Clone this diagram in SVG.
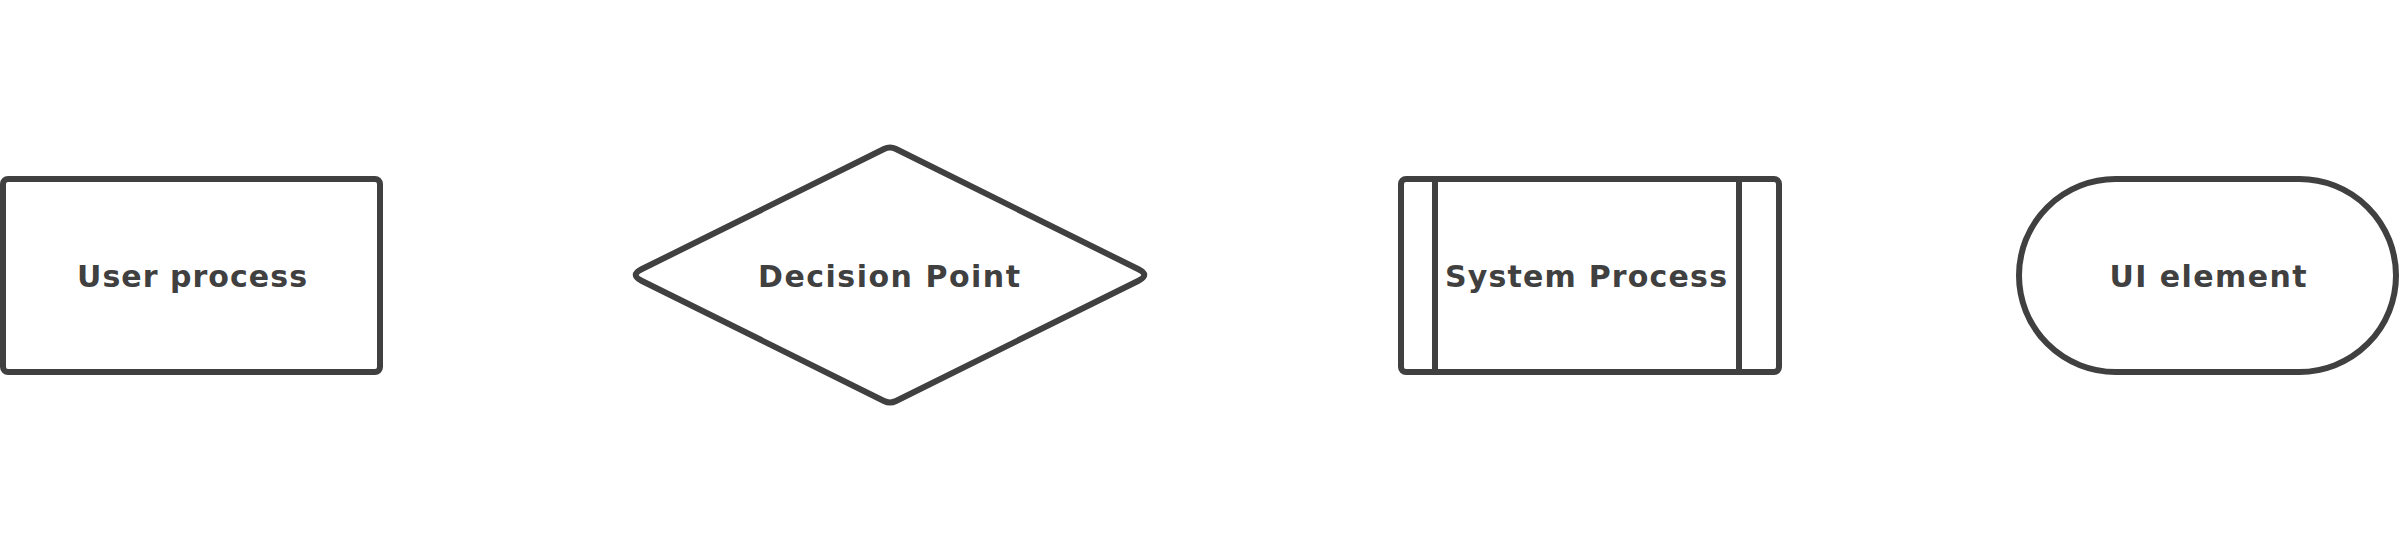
<svg xmlns="http://www.w3.org/2000/svg" width="2400" height="548" viewBox="0 0 2400 548">
<style>
.shape{fill:#ffffff;stroke:#404040;stroke-width:6;stroke-linejoin:round}
.line{stroke:#404040;stroke-width:6;fill:none}
.label{font-family:"DejaVu Sans","Liberation Sans",sans-serif;font-weight:700;font-size:30px;fill:#404040;text-anchor:middle}
</style>
<rect width="2400" height="548" fill="#ffffff"/>
<g id="connectors"></g>
<g id="user-process">
<rect class="shape" x="3" y="179" width="377" height="193" rx="5"/>
<text class="label" x="192" y="287" textLength="230" lengthAdjust="spacing">User process</text>
</g>
<g id="decision-point">
<path class="shape" d="M 641.5 269.3 L 884 149 Q 890 146 896 149 L 1138.5 269.3 Q 1150 275 1138.5 280.7 L 896 401 Q 890 404 884 401 L 641.5 280.7 Q 630 275 641.5 269.3 Z"/>
<text class="label" x="889" y="286.5" textLength="262" lengthAdjust="spacing">Decision Point</text>
</g>
<g id="system-process">
<rect class="shape" x="1401" y="179" width="378" height="193" rx="5"/>
<line class="line" x1="1435" y1="179" x2="1435" y2="372"/>
<line class="line" x1="1739" y1="179" x2="1739" y2="372"/>
<text class="label" x="1586" y="287" textLength="282" lengthAdjust="spacing">System Process</text>
</g>
<g id="ui-element">
<rect class="shape" x="2019" y="179" width="377" height="193" rx="96.5"/>
<text class="label" x="2208" y="287" textLength="197" lengthAdjust="spacing">UI element</text>
</g>
</svg>
